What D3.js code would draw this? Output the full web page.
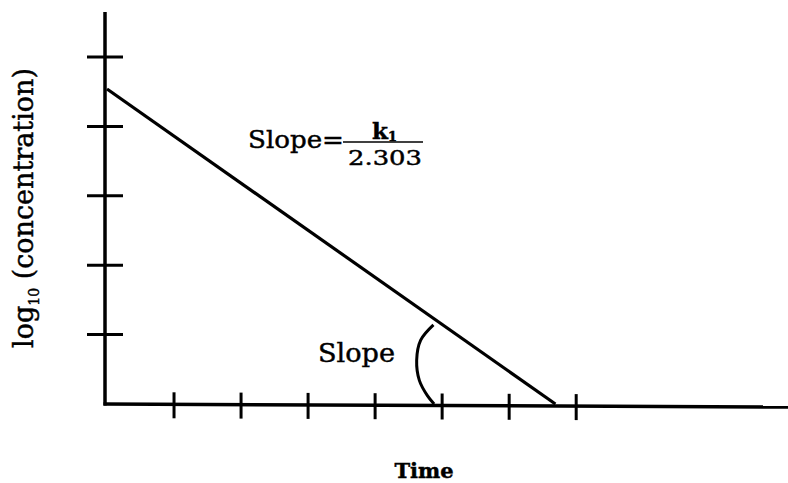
<!DOCTYPE html>
<html>
<head>
<meta charset="utf-8">
<script src="https://cdn.jsdelivr.net/npm/d3@7"></script>
<style>
  html, body { margin: 0; background: #fff; overflow: hidden; }
  svg { display: block; }
  text { font-family: "DejaVu Serif", serif; fill: #000; stroke: #000; stroke-width: 0.45; }
</style>
</head>
<body>
<div id="chart"></div>
<script>

// tick positions on both axes (unlabelled)
const xTicks = [1, 2, 3, 4, 5, 6, 7];
const yTicks = [1, 2, 3, 4, 5];

// first-order decay: log10(concentration) against time
const decayTime = [0, 6.69];
const decayLogConc = [4.54, 0];

// hand-drawn arc marking the slope angle
const arcTime = [4.87, 4.68, 4.62, 4.66, 4.78, 4.88];
const arcLogConc = [1.14, 0.92, 0.63, 0.34, 0.12, 0.0];

const width = 788, height = 483;

const svg = d3.select("#chart").append("svg")
	.attr("width", width)
	.attr("height", height);

// scales
const x = d3.scaleLinear().domain([0, 10.16]).range([107, 788]);
const y = d3.scaleLinear().domain([0, 5.65]).range([404, 12]);

const ink = "#000";

// axis lines
svg.append("line")
	.attr("x1", x(0) - 2).attr("x2", x(0) - 2)
	.attr("y1", y(5.65)).attr("y2", y(0) + 1.5)
	.attr("stroke", ink).attr("stroke-width", 3.5);

svg.append("line")
	.attr("x1", x(0) - 3.5).attr("x2", x(10.16))
	.attr("y1", y(0)).attr("y2", y(0) + 3)
	.attr("stroke", ink).attr("stroke-width", 3.5);

// y ticks (cross the axis)
svg.selectAll(".ytick")
	.data(yTicks)
	.enter()
	.append("line")
	.attr("class", "ytick")
	.attr("x1", x(0) - 20).attr("x2", x(0) + 16)
	.attr("y1", d => y(d)).attr("y2", d => y(d))
	.attr("stroke", ink).attr("stroke-width", 3);

// x ticks (cross the axis)
svg.selectAll(".xtick")
	.data(xTicks)
	.enter()
	.append("line")
	.attr("class", "xtick")
	.attr("x1", d => x(d)).attr("x2", d => x(d))
	.attr("y1", d => y(0) - 12 + d * 0.3).attr("y2", d => y(0) + 14 + d * 0.3)
	.attr("stroke", ink).attr("stroke-width", 3);

// decay line
const line = d3.line()
	.x(d => x(d[0]))
	.y(d => y(d[1]));

svg.append("path")
	.datum(d3.zip(decayTime, decayLogConc))
	.attr("d", line)
	.attr("fill", "none")
	.attr("stroke", ink)
	.attr("stroke-width", 3.2);

// slope arc
svg.append("path")
	.datum(d3.zip(arcTime, arcLogConc))
	.attr("d", line.curve(d3.curveCatmullRom))
	.attr("fill", "none")
	.attr("stroke", ink)
	.attr("stroke-width", 3);

// annotation: Slope = k1 / 2.303
svg.append("text")
	.attr("x", 248).attr("y", 148)
	.attr("font-size", 25)
	.attr("textLength", 96)
	.attr("lengthAdjust", "spacingAndGlyphs")
	.text("Slope=");

const k = svg.append("text")
	.attr("x", 372).attr("y", 139)
	.attr("font-size", 23)
	.attr("font-weight", "bold");
k.append("tspan").text("k");
k.append("tspan")
	.attr("font-size", 13)
	.attr("dy", 2)
	.text("1");

svg.append("line")
	.attr("x1", 343).attr("x2", 423)
	.attr("y1", 142).attr("y2", 142)
	.attr("stroke", ink).attr("stroke-width", 1.6);

svg.append("text")
	.attr("x", 348).attr("y", 165)
	.attr("font-size", 21)
	.attr("textLength", 74)
	.attr("lengthAdjust", "spacingAndGlyphs")
	.text("2.303");

// annotation next to the arc
svg.append("text")
	.attr("x", 318).attr("y", 362)
	.attr("font-size", 26)
	.attr("textLength", 77)
	.attr("lengthAdjust", "spacingAndGlyphs")
	.text("Slope");

// axis titles
svg.append("text")
	.attr("x", 424).attr("y", 478)
	.attr("text-anchor", "middle")
	.attr("font-size", 21)
	.attr("font-weight", "bold")
	.text("Time");

const yLabel = svg.append("text")
	.attr("transform", "translate(33,208) rotate(-90)")
	.attr("text-anchor", "middle")
	.attr("font-size", 27);
yLabel.append("tspan").text("log");
yLabel.append("tspan")
	.attr("font-size", 14)
	.attr("dy", 6)
	.text("10");
yLabel.append("tspan")
	.attr("dy", -6)
	.text(" (concentration)");

</script>
</body>
</html>
